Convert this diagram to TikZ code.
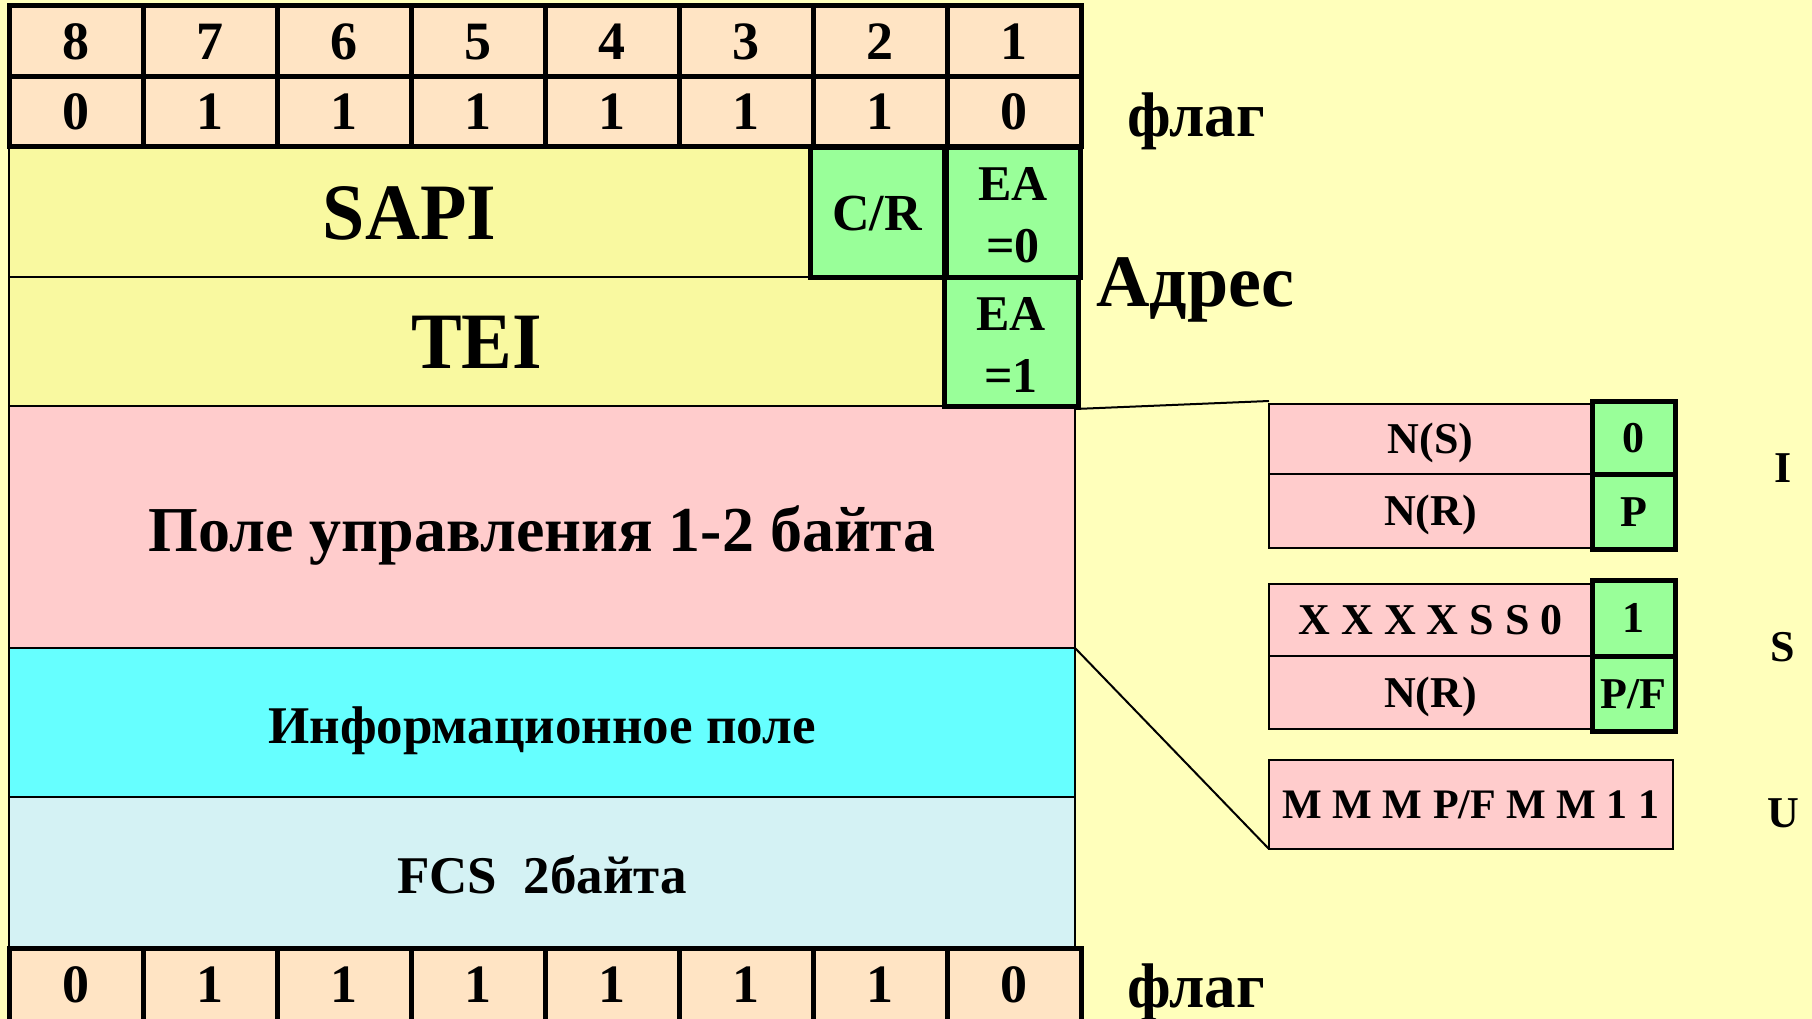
\documentclass[tikz,border=0pt]{standalone}
\usepackage{fontspec}
\setmainfont{Liberation Serif}
\newfontfamily\condfont{Liberation Serif}[FakeStretch=0.95]
\newcommand\myfs[1]{\fontsize{#1}{#1}\selectfont}
\definecolor{bgyel}{HTML}{FFFFBB}
\definecolor{peach}{HTML}{FFE4C4}
\definecolor{fieldyel}{HTML}{F9F9A0}
\definecolor{grn}{HTML}{99FF99}
\definecolor{pnk}{HTML}{FFCCCC}
\definecolor{cyn}{HTML}{66FFFF}
\definecolor{lcyn}{HTML}{D4F2F4}
\begin{document}
\begin{tikzpicture}[x=1pt,y=-1pt,
  base/.style={draw, anchor=north west, inner sep=0pt, outer sep=0pt, font=\bfseries},
  capc/.style={text height=#1, text depth=0pt},
  flagcell/.style={base, capc=35.6pt, fill=peach, line width=5pt, minimum width=134pt, minimum height=71pt, font=\bfseries\myfs{54}},
  yelfield/.style={base, capc=54pt, fill=fieldyel, line width=2pt, font=\condfont\bfseries\myfs{80}},
  grnbox/.style={base, fill=grn, line width=5pt, align=center},
  band/.style={base, line width=2pt, minimum width=1066pt},
  pbox/.style={base, capc=29pt, fill=pnk, line width=2pt, minimum width=323pt, font=\bfseries\myfs{44}},
  gbox/.style={base, capc=29pt, fill=grn, line width=5pt, minimum width=83pt, font=\bfseries\myfs{44}},
  lbl/.style={anchor=base, inner sep=0pt, font=\bfseries\myfs{44}},
  conn/.style={line width=2pt}]
\useasboundingbox (0,0) rectangle (1812,1019);
\fill[bgyel] (0,0) rectangle (1812,1019);
\begin{scope}
\clip (0,0) rectangle (1812,1019);
% middle fields
\node[yelfield, minimum width=801pt, minimum height=129pt] (sapi) at (9,148) {SAPI};
\node[yelfield, minimum width=935pt, minimum height=129pt] (tei) at (9,277) {TEI};
\node[band, capc=49pt, fill=pnk, minimum height=242pt, font=\bfseries\myfs{64}] (ctrl) at (9,406) {Поле управления 1-2 байта};
\node[band, capc=42pt, fill=cyn, minimum height=149pt, font=\bfseries\myfs{53}] (info) at (9,648) {Информационное поле};
\node[band, capc=42pt, fill=lcyn, minimum height=151pt, font=\bfseries\myfs{53}] (fcs) at (9,797) {FCS\ \ 2байта};
\node[grnbox, capc=36pt, minimum width=134pt, minimum height=129pt, font=\bfseries\myfs{52}] (cr) at (810,148) {C/R};
\node[grnbox, minimum width=134pt, minimum height=129pt, font=\bfseries\fontsize{50}{62}\selectfont] (ea0) at (946,148) {\rule{0pt}{39pt}EA\\=0};
\node[grnbox, minimum width=134pt, minimum height=129pt, font=\bfseries\fontsize{50}{62}\selectfont] (ea1) at (944,277) {\rule{0pt}{39pt}EA\\=1};
% flag rows
\foreach \i/\t in {0/8,1/7,2/6,3/5,4/4,5/3,6/2,7/1}{
  \node[flagcell] (n\i) at (9+134*\i,6) {\t};
}
\foreach \i/\t in {0/0,1/1,2/1,3/1,4/1,5/1,6/1,7/0}{
  \node[flagcell, minimum height=70pt] (f\i) at (9+134*\i,77) {\t};
  \node[flagcell, minimum height=74pt] (g\i) at (9+134*\i,948) {\t};
}
\end{scope}
% labels
\node[anchor=base west, inner sep=0pt, font=\bfseries\myfs{63}] (flag1) at (1127,137) {флаг};
\node[anchor=base west, inner sep=0pt, font=\bfseries\myfs{63}] (flag2) at (1127,1007) {флаг};
\node[anchor=base west, inner sep=0pt, font=\bfseries\myfs{74}] (adr) at (1096,306) {Адрес};
% right side formats
\begin{scope}[every node/.append style={yshift=-3pt}]
\node[pbox, minimum height=70pt] (ins) at (1269,401) {N(S)};
\node[pbox, minimum height=74pt] (inr) at (1269,471) {N(R)};
\node[gbox, minimum height=73pt] (i0) at (1592,398) {0};
\node[gbox, minimum height=75pt] (ip) at (1592,471) {P};
\node[pbox, minimum height=72pt] (sx) at (1269,581) {X X X X S S 0};
\node[pbox, minimum height=73pt] (snr) at (1269,653) {N(R)};
\node[gbox, minimum height=76pt] (s1) at (1592,577) {1};
\node[gbox, minimum height=75pt] (spf) at (1592,653) {P/F};
\node[pbox, capc=27.7pt, minimum width=404pt, minimum height=89pt, font=\bfseries\myfs{42}] (u) at (1269,757) {M M M P/F M M 1 1};
\end{scope}
\node[lbl] (li) at (1783,482) {I};
\node[lbl] (ls) at (1783,661) {S};
\node[lbl] (lu) at (1783,827) {U};
% connectors
\draw[conn] ([yshift=-3pt]ctrl.north east) -- (i0.north west -| ins.west);
\draw[conn] (ctrl.south east) -- (u.south west);
\end{tikzpicture}
\end{document}
